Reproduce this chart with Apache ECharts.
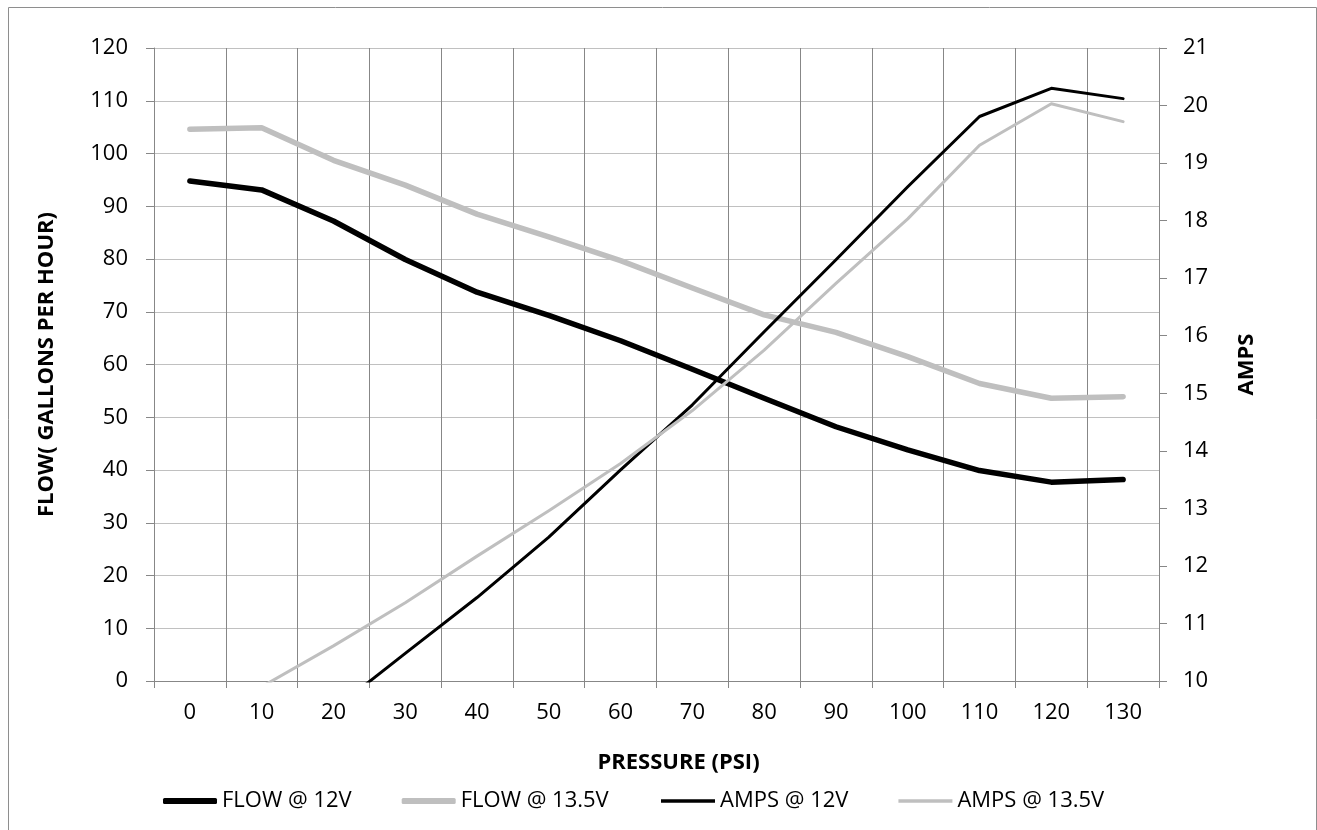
<!DOCTYPE html>
<html>
<head>
<meta charset="utf-8">
<script src="https://cdn.jsdelivr.net/npm/echarts@6/dist/echarts.min.js"></script>
<style>
html,body{margin:0;padding:0;background:#ffffff;}
#chart{width:1317px;height:830px;}
</style>
</head>
<body>
<div id="chart"></div>
<script>
// ---- data ----
const pressure = ['0','10','20','30','40','50','60','70','80','90','100','110','120','130'];
const flow12  = [94.8, 93.1, 87.2, 79.9, 73.7, 69.3, 64.5, 59.1, 53.6, 48.2, 43.8, 39.9, 37.7, 38.2];
const flow135 = [104.6, 104.9, 98.7, 94.0, 88.5, 84.2, 79.7, 74.5, 69.4, 66.1, 61.5, 56.4, 53.6, 53.9];
const amps12  = [8.7, 9.1, 9.5, 10.48, 11.45, 12.5, 13.67, 14.8, 16.07, 17.32, 18.59, 19.81, 20.30, 20.12];
const amps135 = [9.2, 9.9, 10.61, 11.36, 12.17, 12.96, 13.78, 14.7, 15.75, 16.91, 18.03, 19.31, 20.03, 19.72];
const seriesNames = ['FLOW @ 12V', 'FLOW @ 13.5V', 'AMPS @ 12V', 'AMPS @ 13.5V'];
const xTitle = 'PRESSURE (PSI)';
const yLeftTitle = 'FLOW( GALLONS PER HOUR)';
const yRightTitle = 'AMPS';

const FONT = 'Open Sans';
const AXIS_GRAY = '#878787';
const GRID_GRAY = '#c0c0c0';
const BLACK = '#000000';
const LIGHT = '#bfbfbf';

const chart = echarts.init(document.getElementById('chart'), null, {renderer: 'canvas'});

function lineSeries(name, data, color, width, axisIndex) {
  return {
    name: name,
    type: 'line',
    yAxisIndex: axisIndex,
    data: data,
    symbol: 'none',
    smooth: false,
    clip: true,
    color: color,
    lineStyle: {color: color, width: width, cap: 'round', join: 'round'},
    emphasis: {disabled: true}
  };
}

const legendText = {fontFamily: FONT, fontSize: 22, color: BLACK};

chart.setOption({
  animation: false,
  backgroundColor: '#ffffff',
  textStyle: {fontFamily: FONT},
  graphic: [{
    type: 'rect',
    silent: true,
    z: -10,
    shape: {x: 8.5, y: 7.5, width: 1308, height: 840},
    style: {fill: 'none', stroke: '#8e8e8e', lineWidth: 1}
  }],
  grid: {left: 154, right: 158, top: 48, bottom: 149, containLabel: false},
  legend: [
    {
      data: [seriesNames[0], seriesNames[1]],
      left: 163, top: 790, padding: 0,
      orient: 'horizontal',
      icon: 'roundRect',
      itemWidth: 54, itemHeight: 6, itemGap: 50,
      itemStyle: {borderWidth: 0},
      textStyle: legendText,
      selectedMode: false
    },
    {
      data: [seriesNames[2], seriesNames[3]],
      left: 661, top: 790, padding: 0,
      orient: 'horizontal',
      icon: 'rect',
      itemWidth: 54, itemHeight: 3.5, itemGap: 50,
      itemStyle: {borderWidth: 0},
      textStyle: legendText,
      selectedMode: false
    }
  ],
  xAxis: {
    type: 'category',
    data: pressure,
    boundaryGap: true,
    name: xTitle,
    nameLocation: 'middle',
    nameGap: 71,
    nameTextStyle: {fontFamily: FONT, fontSize: 22, fontWeight: 'bold', color: BLACK, padding: [0, 0, 0, 44]},
    axisLine: {show: true, onZero: false, lineStyle: {color: AXIS_GRAY, width: 1}},
    axisTick: {show: true, length: 7, interval: 0, alignWithLabel: false, lineStyle: {color: AXIS_GRAY}},
    axisLabel: {interval: 0, margin: 21, fontFamily: FONT, fontSize: 22, color: BLACK},
    splitLine: {show: true, interval: 0, lineStyle: {color: AXIS_GRAY, width: 1}}
  },
  yAxis: [
    {
      type: 'value',
      position: 'left',
      min: 0, max: 120, interval: 10,
      name: yLeftTitle,
      nameLocation: 'middle',
      nameGap: 96,
      nameTextStyle: {fontFamily: FONT, fontSize: 22, fontWeight: 'bold', color: BLACK},
      axisLine: {show: true, lineStyle: {color: AXIS_GRAY, width: 1}},
      axisTick: {show: true, length: 8, lineStyle: {color: AXIS_GRAY}},
      axisLabel: {margin: 26, fontFamily: FONT, fontSize: 22, color: BLACK},
      splitLine: {show: true, lineStyle: {color: GRID_GRAY, width: 1}}
    },
    {
      type: 'value',
      position: 'right',
      min: 10, max: 21, interval: 1,
      name: yRightTitle,
      nameLocation: 'middle',
      nameGap: 77,
      nameTextStyle: {fontFamily: FONT, fontSize: 22, fontWeight: 'bold', color: BLACK},
      axisLine: {show: true, lineStyle: {color: AXIS_GRAY, width: 1}},
      axisTick: {show: true, length: 8, lineStyle: {color: AXIS_GRAY}},
      axisLabel: {margin: 24, fontFamily: FONT, fontSize: 22, color: BLACK},
      splitLine: {show: false}
    }
  ],
  series: [
    lineSeries(seriesNames[0], flow12, BLACK, 5.5, 0),
    lineSeries(seriesNames[1], flow135, LIGHT, 5.5, 0),
    lineSeries(seriesNames[2], amps12, BLACK, 3, 1),
    lineSeries(seriesNames[3], amps135, LIGHT, 3, 1)
  ]
});
</script>
</body>
</html>
